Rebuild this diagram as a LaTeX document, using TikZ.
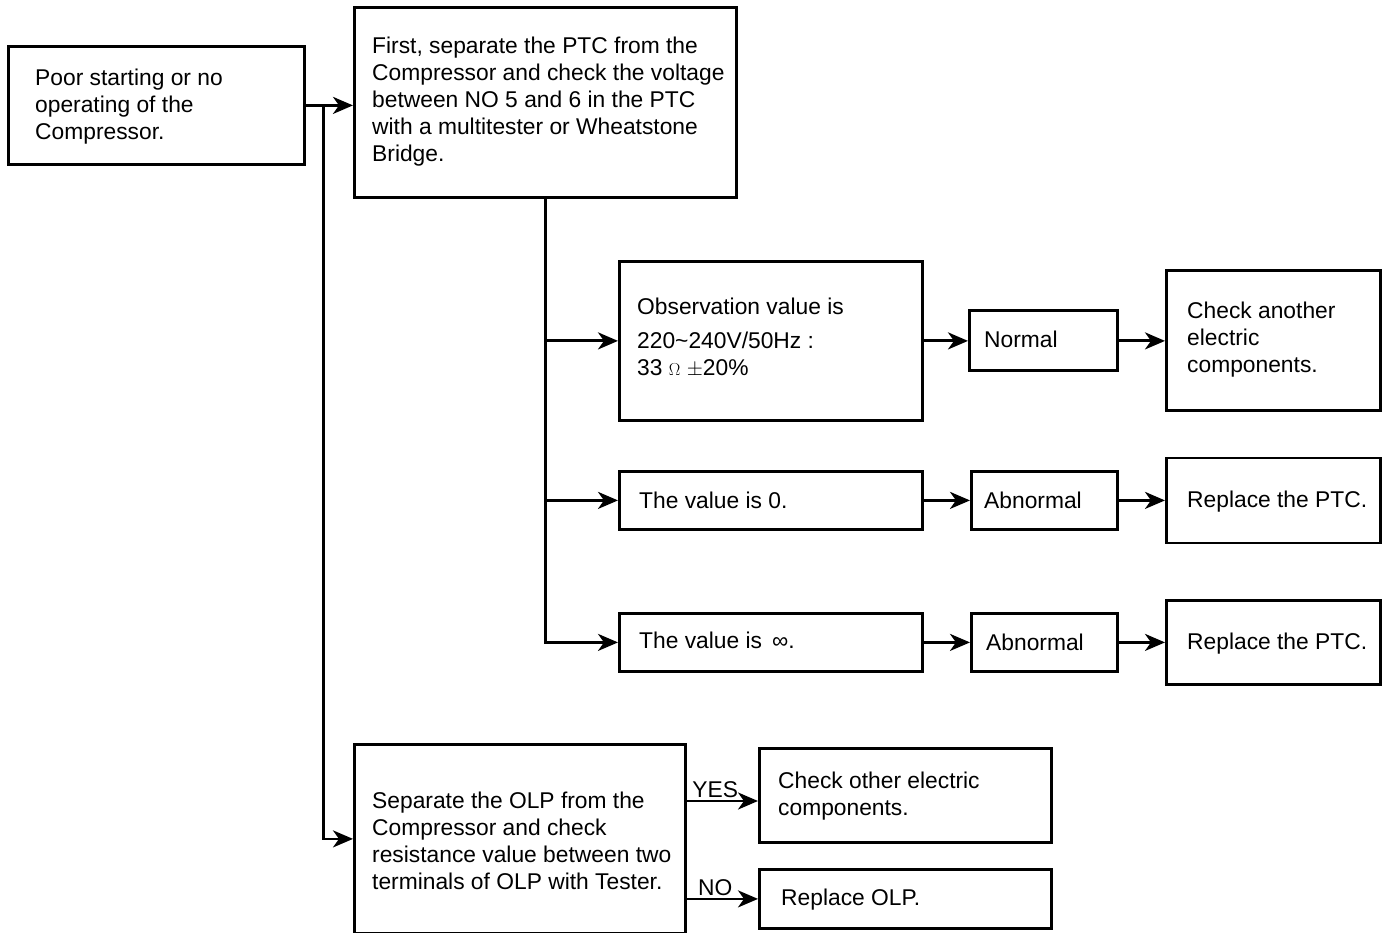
\documentclass[tikz,border=0pt]{standalone}
\usepackage{fontspec}
\setmainfont{Liberation Sans}
\usetikzlibrary{arrows.meta,calc}
\begin{document}
\begin{tikzpicture}[x=1pt,y=-1pt,
  box/.style={draw, line width=2.8pt, inner sep=0pt, anchor=north west},
  txt/.style={anchor=west, align=left, inner sep=0pt, font=\fontsize{22.8}{27}\selectfont},
  arr/.style={line width=2.8pt, -{Stealth[length=20pt,width=17pt,inset=6pt]}},
  lbl/.style={above, inner sep=2pt, font=\fontsize{22.8}{27}\selectfont}]
\useasboundingbox (0,0) rectangle (1385,933);

% boxes
\node[box, minimum width=296pt, minimum height=118pt] (poor) at (7,45) {};
\node[box, minimum width=382pt, minimum height=190pt] (first) at (353,6) {};
\node[box, minimum width=303pt, minimum height=159pt] (obs) at (618,260) {};
\node[box, minimum width=148pt, minimum height=60pt] (normal) at (968,309.5) {};
\node[box, minimum width=214pt, minimum height=140pt] (chk1) at (1165,269.5) {};
\node[box, minimum width=303pt, minimum height=58pt] (v0) at (618,470) {};
\node[box, minimum width=146pt, minimum height=58pt] (abn1) at (970,470) {};
\node[box, minimum width=214pt, minimum height=85pt] (rep1) at (1165,456.5) {};
\node[box, minimum width=303pt, minimum height=58pt] (vinf) at (618,612) {};
\node[box, minimum width=146pt, minimum height=58pt] (abn2) at (970,612) {};
\node[box, minimum width=214pt, minimum height=84pt] (rep2) at (1165,599) {};
\node[box, minimum width=331pt, minimum height=189pt] (olp) at (353,743) {};
\node[box, minimum width=292pt, minimum height=94pt] (chk2) at (758,747) {};
\node[box, minimum width=292pt, minimum height=59pt] (rep3) at (758,868) {};

% texts
\node[txt] (poor-t) at ($(poor.west)+(28,1)$) {Poor starting or no\\operating of the\\Compressor.};
\node[txt] (first-t) at ($(first.west)+(19,-1)$) {First, separate the PTC from the\\Compressor and check the voltage\\between NO 5 and 6 in the PTC\\with a multitester or Wheatstone\\Bridge.};
\node[txt] (obs-t) at ($(obs.west)+(19,-3)$) {Observation value is\\[7pt]220\textasciitilde240V/50Hz :\\33 {\fontsize{16}{16}\selectfont$\Omega$} $\pm$20\%};
\node[txt] (normal-t) at ($(normal.west)+(16,-2)$) {Normal};
\node[txt] (chk1-t) at ($(chk1.west)+(22,-1)$) {Check another\\electric\\components.};
\node[txt] (v0-t) at ($(v0.west)+(21,0)$) {The value is 0.};
\node[txt] (abn1-t) at ($(abn1.west)+(14,0)$) {Abnormal};
\node[txt] (rep1-t) at ($(rep1.west)+(22,1)$) {Replace the PTC.};
\node[txt] (vinf-t) at ($(vinf.west)+(21,-2)$) {The value is \,∞.};
\node[txt] (abn2-t) at ($(abn2.west)+(16,0)$) {Abnormal};
\node[txt] (rep2-t) at ($(rep2.west)+(22,1)$) {Replace the PTC.};
\node[txt] (olp-t) at ($(olp.west)+(19,2)$) {Separate the OLP from the\\Compressor and check\\resistance value between two\\terminals of OLP with Tester.};
\node[txt] (chk2-t) at ($(chk2.west)+(20,1)$) {Check other electric\\components.};
\node[txt] (rep3-t) at ($(rep3.west)+(23,1)$) {Replace OLP.};

% connectors
\draw[arr] (poor.east) -- (first.west |- poor.east);
\coordinate (j1) at ($(poor.east)!0.38!(poor.east -| first.west)$);
\draw[arr] (j1) |- (olp.west);
\draw[arr] (first.south) |- (obs.west);
\draw[arr] (first.south) |- (v0.west);
\draw[arr] (first.south) |- (vinf.west);
\draw[arr] (obs.east) -- (normal.west);
\draw[arr] (normal.east) -- (chk1.west);
\draw[arr] (v0.east) -- (abn1.west);
\draw[arr] (abn1.east) -- (rep1.west);
\draw[arr] (vinf.east) -- (abn2.west);
\draw[arr] (abn2.east) -- (rep2.west);
\path (olp.north east) ++(0,58) coordinate (yesA);
\draw[arr] (yesA) -- (yesA -| chk2.west) node[lbl, pos=0.4] {YES};
\draw[arr] (olp.east |- rep3.west) -- (rep3.west) node[lbl, pos=0.4] {NO};
\end{tikzpicture}
\end{document}
